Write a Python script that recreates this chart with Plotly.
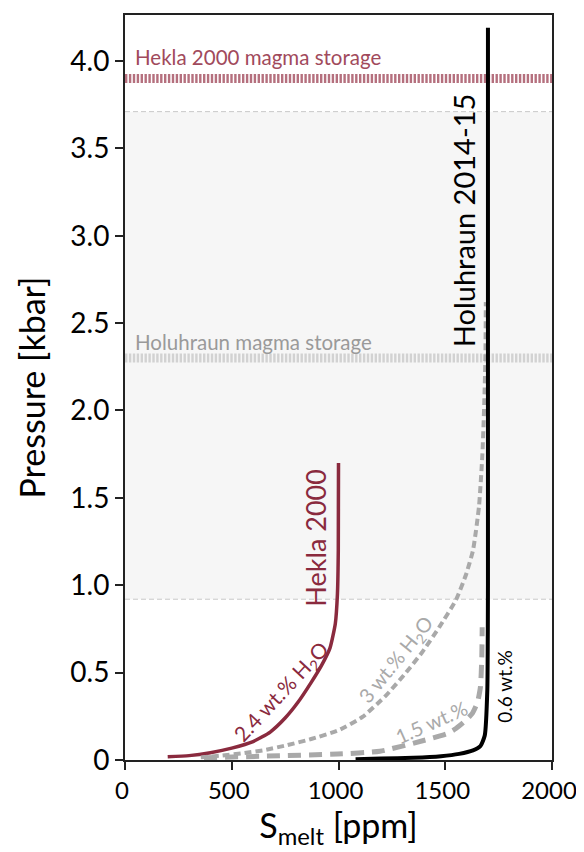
import plotly.graph_objects as go

# ---- data (S_melt in ppm, pressure in kbar) ----
hekla_24_s = [200, 300, 400, 500, 600, 680, 750, 810, 870, 920, 960, 985, 995, 999, 1000]
hekla_24_p = [0.018, 0.025, 0.042, 0.068, 0.105, 0.16, 0.24, 0.33, 0.44, 0.54, 0.64, 0.78, 0.95, 1.2, 1.70]

holu_3_s = [355, 450, 560, 654, 760, 872, 1000, 1114, 1223, 1316, 1394, 1472, 1550, 1597, 1630, 1658, 1674, 1683, 1688, 1690]
holu_3_p = [0.015, 0.025, 0.04, 0.057, 0.085, 0.12, 0.17, 0.248, 0.37, 0.5, 0.62, 0.76, 0.916, 1.06, 1.2, 1.45, 1.75, 2.05, 2.3, 2.62]

holu_15_s = [370, 654, 995, 1194, 1394, 1508, 1550, 1590, 1627, 1651, 1665, 1671, 1673]
holu_15_p = [0.013, 0.022, 0.034, 0.05, 0.11, 0.15, 0.18, 0.22, 0.267, 0.33, 0.42, 0.58, 0.76]

holu_06_s = [1080, 1200, 1351, 1480, 1565, 1630, 1665, 1685, 1697, 1700, 1700]
holu_06_p = [0.005, 0.008, 0.013, 0.022, 0.035, 0.055, 0.08, 0.14, 0.4, 1.0, 4.19]

hekla_storage_p = 3.90
holuhraun_storage_p = 2.30
shade_range_p = [0.92, 3.71]

x_ticks = [0, 500, 1000, 1500, 2000]
y_ticks = [0, 0.5, 1.0, 1.5, 2.0, 2.5, 3.0, 3.5, 4.0]
y_tick_labels = ["0", "0.5", "1.0", "1.5", "2.0", "2.5", "3.0", "3.5", "4.0"]

MAROON = "#8a2a3e"
GREY = "#a9a9a9"
FONT = "Lato"

fig = go.Figure()

fig.add_trace(go.Scatter(x=hekla_24_s, y=hekla_24_p, mode="lines",
                         line=dict(color=MAROON, width=3.5, shape="spline", smoothing=0.5)))
fig.add_trace(go.Scatter(x=holu_3_s, y=holu_3_p, mode="lines",
                         line=dict(color=GREY, width=4, dash="7px,4px", shape="spline", smoothing=0.5)))
fig.add_trace(go.Scatter(x=holu_15_s, y=holu_15_p, mode="lines",
                         line=dict(color=GREY, width=5, dash="13px,8px", shape="spline", smoothing=0.5)))
fig.add_trace(go.Scatter(x=holu_06_s, y=holu_06_p, mode="lines",
                         line=dict(color="black", width=4, shape="spline", smoothing=0.5)))

shapes = [
    dict(type="rect", xref="paper", yref="y", x0=0, x1=1, y0=shade_range_p[0], y1=shade_range_p[1],
         fillcolor="#f6f6f6", line=dict(width=0), layer="below"),
    dict(type="line", xref="paper", yref="y", x0=0, x1=1, y0=shade_range_p[0], y1=shade_range_p[0],
         line=dict(color="#c8c8c8", width=1, dash="5px,3px"), layer="below"),
    dict(type="line", xref="paper", yref="y", x0=0, x1=1, y0=shade_range_p[1], y1=shade_range_p[1],
         line=dict(color="#c8c8c8", width=1, dash="5px,3px"), layer="below"),
    dict(type="line", xref="paper", yref="y", x0=0, x1=1, y0=hekla_storage_p, y1=hekla_storage_p,
         line=dict(color="#b5707e", width=9, dash="2.4px,1.5px"), layer="below"),
    dict(type="line", xref="paper", yref="y", x0=0, x1=1, y0=holuhraun_storage_p, y1=holuhraun_storage_p,
         line=dict(color="#d2d2d2", width=9, dash="2.4px,1.5px"), layer="below"),
]

annotations = [
    dict(x=0.018, xref="paper", y=4.02, yref="y", text="Hekla 2000 magma storage", showarrow=False,
         xanchor="left", yanchor="middle", font=dict(family=FONT, size=20.5, color="#a14a5c")),
    dict(x=0.018, xref="paper", y=2.39, yref="y", text="Holuhraun magma storage", showarrow=False,
         xanchor="left", yanchor="middle", font=dict(family=FONT, size=20.5, color="#9a9a9a")),
    dict(x=1589, y=3.09, text="Holuhraun 2014-15", showarrow=False, textangle=-90,
         font=dict(family=FONT, size=29, color="black")),
    dict(x=888, y=1.27, text="Hekla 2000", showarrow=False, textangle=-90,
         font=dict(family=FONT, size=27, color=MAROON)),
    dict(x=1776, y=0.42, text="0.6 wt.%", showarrow=False, textangle=-90,
         font=dict(family=FONT, size=19, color="black")),
    dict(x=734, y=0.39, text="2.4 wt.% H<sub>2</sub>O", showarrow=False, textangle=-47,
         font=dict(family=FONT, size=21, color=MAROON)),
    dict(x=1269, y=0.572, text="3 wt.% H<sub>2</sub>O", showarrow=False, textangle=-51,
         font=dict(family=FONT, size=20, color=GREY)),
    dict(x=1433, y=0.219, text="1.5 wt.%", showarrow=False, textangle=-24,
         font=dict(family=FONT, size=20, color=GREY)),
]

# The page body adds an 8px offset, so the figure is 8px smaller and margins shifted.
fig.update_layout(
    width=576, height=844,
    margin=dict(l=117, r=32, t=7, b=92, autoexpand=False),
    paper_bgcolor="white", plot_bgcolor="white",
    showlegend=False,
    shapes=shapes, annotations=annotations,
    font=dict(family=FONT, color="black"),
)
fig.update_xaxes(range=[0, 2000], tickvals=x_ticks, ticks="outside", ticklen=8, tickwidth=1.5,
                 tickcolor="#222", showgrid=False, zeroline=False, ticklabeloverflow="allow",
                 automargin=False, ticklabelshift=-3,
                 showline=True, linecolor="#222", linewidth=2, mirror=True,
                 tickfont=dict(family=FONT, size=24, color="black"),
                 title=dict(text="S<sub>melt</sub> [ppm]", font=dict(family=FONT, size=34, color="black"), standoff=4))
fig.update_yaxes(range=[0, 4.263], tickvals=y_ticks, ticktext=y_tick_labels, ticks="outside", ticklen=8,
                 tickwidth=1.5, tickcolor="#222", showgrid=False, zeroline=False,
                 automargin=False,
                 showline=True, linecolor="#222", linewidth=2, mirror=True,
                 tickfont=dict(family=FONT, size=28, color="black"),
                 title=dict(text="Pressure [kbar]", font=dict(family=FONT, size=34, color="black"), standoff=14))

fig.write_html("out.html")
